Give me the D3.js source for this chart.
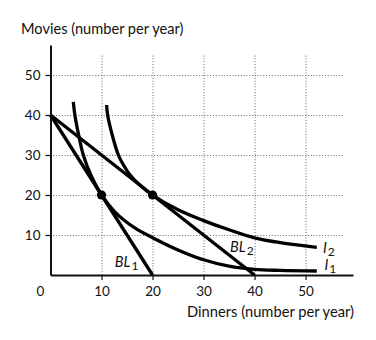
<!DOCTYPE html>
<html>
<head>
<meta charset="utf-8">
<script src="https://cdn.jsdelivr.net/npm/d3@7"></script>
<style>
  html, body { margin: 0; padding: 0; background: #fff; }
  svg { display: block; font-family: Lato, "Open Sans", sans-serif; }
</style>
</head>
<body>
<svg id="chart" width="376" height="340"></svg>
<script>
// Tick values on both axes
const xTicks = [10, 20, 30, 40, 50];
const yTicks = [10, 20, 30, 40, 50];

// Budget lines: [dinners, movies] end points
const budgetLine1 = [[0, 40], [20, 0]];
const budgetLine2 = [[0, 40], [40, 0]];

// Indifference curves: [dinners, movies]
const indiff1 = [[4.47, 43.3], [4.8, 39.8], [5.65, 34.2], [6.43, 30], [7.9, 25], [10, 20],
  [12.6, 15.8], [16.6, 11.7], [20.2, 9.2], [25.1, 6.2], [30, 3.8], [35, 2.2], [40, 1.4], [45, 1.15], [52.2, 1.0]];
const indiff2 = [[11.0, 42.5], [11.2, 40], [12.1, 35], [13.3, 30], [14.3, 27.5], [15.6, 25],
  [17.5, 22.5], [20, 20], [25, 16.3], [30, 13.6], [35, 11.3], [40, 9.3], [45, 8.1], [52.2, 6.9]];

// Optimal consumption points
const bestPoints = [[10, 20], [20, 20]];

// Curve labels: text, subscript, [dinners, movies] anchor
const curveLabels = [
  { text: "BL", sub: "1", at: [12.6, 2.0] },
  { text: "BL", sub: "2", at: [35.2, 5.8] },
  { text: "I", sub: "2", at: [53.4, 5.6] },
  { text: "I", sub: "1", at: [53.7, 1.25] }
];

const svg = d3.select("#chart");
const x = d3.scaleLinear().domain([0, 59.3]).range([50.5, 353]);
const y = d3.scaleLinear().domain([0, 57.5]).range([275, 45]);

// Dotted grid
const grid = svg.append("g").attr("stroke", "#666").attr("stroke-width", 1)
  .attr("stroke-dasharray", "1,1.8").attr("fill", "none");
grid.selectAll("line.h").data(yTicks).join("line").attr("class", "h")
  .attr("x1", x(0)).attr("x2", x(57.35))
  .attr("y1", d => y(d) + 0.5).attr("y2", d => y(d) + 0.5);
grid.selectAll("line.v").data(xTicks).join("line").attr("class", "v")
  .attr("x1", d => x(d) + 0.5).attr("x2", d => x(d) + 0.5)
  .attr("y1", y(0)).attr("y2", y(55.25));

// Axes
const xAxis = svg.append("g").attr("transform", `translate(0,${y(0)})`)
  .call(d3.axisBottom(x).tickValues(xTicks).tickSize(5).tickSizeOuter(0).tickPadding(6));
const yAxis = svg.append("g").attr("transform", `translate(${x(0)},0)`)
  .call(d3.axisLeft(y).tickValues(yTicks).tickSize(5).tickSizeOuter(0).tickPadding(5));
[xAxis, yAxis].forEach(a => {
  a.select(".domain").attr("stroke", "#111").attr("stroke-width", 2);
  a.selectAll(".tick line").attr("stroke", "#111").attr("stroke-width", 1.2);
  a.selectAll(".tick text").attr("fill", "#111").attr("font-size", 13.5)
    .attr("font-family", "Lato, 'Open Sans', sans-serif");
});

// Origin label
svg.append("text").attr("x", x(0) - 10).attr("y", 296).attr("text-anchor", "middle")
  .attr("font-size", 13.5).attr("fill", "#111").text("0");

// Axis titles
svg.append("text").attr("x", 21).attr("y", 33.5).attr("font-size", 14.6).attr("fill", "#111")
  .text("Movies (number per year)");
svg.append("text").attr("x", 354).attr("y", 316.5).attr("text-anchor", "end")
  .attr("font-size", 14.7).attr("fill", "#111").text("Dinners (number per year)");

// Lines and curves
const line = d3.line().x(d => x(d[0])).y(d => y(d[1]));
const smooth = d3.line().x(d => x(d[0])).y(d => y(d[1])).curve(d3.curveCatmullRom.alpha(0.5));
const marks = svg.append("g").attr("fill", "none").attr("stroke", "#000")
  .attr("stroke-width", 3.3).attr("stroke-linecap", "butt");
marks.append("path").attr("d", line(budgetLine1));
marks.append("path").attr("d", line(budgetLine2));
marks.append("path").attr("d", smooth(indiff1));
marks.append("path").attr("d", smooth(indiff2));

svg.selectAll("circle.best").data(bestPoints).join("circle").attr("class", "best")
  .attr("cx", d => x(d[0])).attr("cy", d => y(d[1])).attr("r", 4.6).attr("fill", "#000");

// Curve labels with subscripts
const lbl = svg.selectAll("text.lbl").data(curveLabels).join("text").attr("class", "lbl")
  .attr("x", d => x(d.at[0])).attr("y", d => y(d.at[1]))
  .attr("font-size", 14.5).attr("font-style", "italic").attr("fill", "#111");
lbl.append("tspan").text(d => d.text);
lbl.append("tspan").attr("dy", 3).attr("dx", 1).attr("font-size", 12).attr("font-style", "normal")
  .text(d => d.sub);
</script>
</body>
</html>
